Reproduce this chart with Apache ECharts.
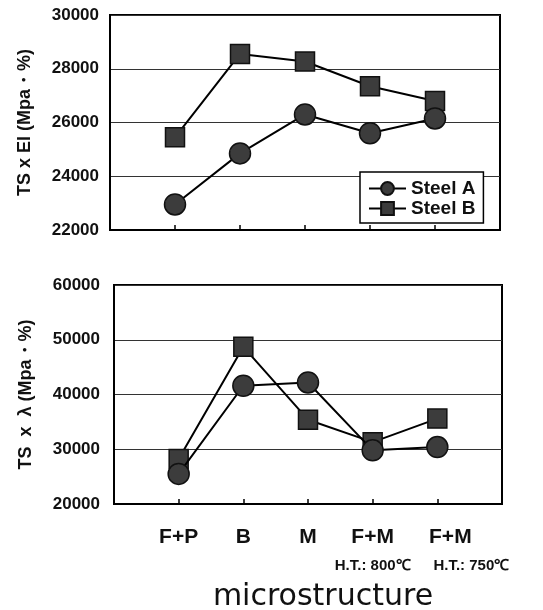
<!DOCTYPE html>
<html>
<head>
<meta charset="utf-8">
<script src="https://cdn.jsdelivr.net/npm/echarts@6/dist/echarts.min.js"></script>
<style>
html,body{margin:0;padding:0;background:#fff;}
#chart{width:543px;height:610px;}
</style>
</head>
<body>
<div id="chart"></div>
<script>
// ---- data ----
const categories = ['F+P', 'B', 'M', 'F+M', 'F+M'];
const subLabels = ['', '', '', 'H.T.: 800\u2103', 'H.T.: 750\u2103'];
const seriesNames = ['Steel A', 'Steel B'];
const steelA_TSxEl = [22950, 24850, 26300, 25600, 26150];
const steelB_TSxEl = [25450, 28550, 28270, 27350, 26800];
const steelA_TSxLambda = [25500, 41600, 42200, 29800, 30400];
const steelB_TSxLambda = [28200, 48700, 35400, 31300, 35600];
const yTopRange = [22000, 30000, 2000];
const yBottomRange = [20000, 60000, 10000];
const yTopName = 'TS x El (Mpa\u30FB%)';
const yBottomName = 'TS  x  \u03BB (Mpa\u30FB%)';
const xName = 'microstructure';

// ---- build ----
const FONT = '"Liberation Sans", Arial, sans-serif';
const padCats = [''].concat(categories, ['']);
const pad = arr => [null].concat(arr, [null]);

const chart = echarts.init(document.getElementById('chart'), null, {renderer: 'canvas'});

function xAxisCfg(gridIndex, showLabels) {
  return {
    type: 'category', gridIndex: gridIndex, data: padCats, boundaryGap: false,
    axisLine: {show: true, lineStyle: {color: '#000', width: 2}},
    axisTick: {show: true, inside: true, length: 5, interval: 0, lineStyle: {color: '#000', width: 1.5}},
    splitLine: {show: false},
    axisLabel: {
      show: showLabels, interval: 0, margin: 20, verticalAlign: 'top',
      formatter: function (v, i) {
        if (i === 0 || i === padCats.length - 1) return '';
        const k = i - 1;
        const shifted = (k === categories.length - 1);
        let s = '{' + (shifted ? 'mainS' : 'main') + '|' + categories[k] + '}';
        if (subLabels[k]) s += '\n{' + (shifted ? 'subS' : 'sub') + '|' + subLabels[k] + '}';
        return s;
      },
      rich: {
        main: {fontFamily: FONT, fontWeight: 'bold', fontSize: 21, color: '#111', lineHeight: 26},
        mainS: {fontFamily: FONT, fontWeight: 'bold', fontSize: 21, color: '#111', lineHeight: 26, padding: [0, 0, 0, 26]},
        sub: {fontFamily: FONT, fontWeight: 'bold', fontSize: 15, color: '#111', lineHeight: 32},
        subS: {fontFamily: FONT, fontWeight: 'bold', fontSize: 15, color: '#111', lineHeight: 32, padding: [0, 0, 0, 68]}
      }
    }
  };
}

function yAxisCfg(gridIndex, range, name, gap, margin) {
  return {
    type: 'value', gridIndex: gridIndex, min: range[0], max: range[1], interval: range[2],
    name: name, nameLocation: 'middle', nameRotate: 90, nameGap: gap,
    nameTextStyle: {fontFamily: FONT, fontWeight: 'bold', fontSize: 18, color: '#111'},
    axisLine: {show: true, lineStyle: {color: '#000', width: 2}},
    axisTick: {show: false},
    splitLine: {show: true, lineStyle: {color: '#333', width: 1}},
    axisLabel: {fontFamily: FONT, fontWeight: 'bold', fontSize: 17, color: '#111', margin: margin,
      formatter: function (v) { return String(v); }}
  };
}

function lineSeries(name, data, xi, yi, symbol, size, z) {
  return {
    name: name, type: 'line', xAxisIndex: xi, yAxisIndex: yi, data: pad(data),
    symbol: symbol, symbolSize: size, z: z,
    lineStyle: {color: '#000', width: 2},
    itemStyle: {color: '#3c3c3c', borderColor: '#111', borderWidth: 1.5},
    emphasis: {disabled: true}, animation: false
  };
}

chart.setOption({
  animation: false,
  backgroundColor: '#fff',
  title: {
    text: xName, left: 318, top: 577, textAlign: 'center',
    textStyle: {fontFamily: '"DejaVu Sans", sans-serif', fontWeight: 'normal', fontSize: 30, color: '#111'}
  },
  legend: {
    data: seriesNames, orient: 'vertical', left: 360, top: 172,
    padding: [7, 8, 5, 8], itemGap: 1, itemWidth: 37, itemHeight: 16,
    borderColor: '#000', borderWidth: 1.5, backgroundColor: '#fff',
    textStyle: {fontFamily: FONT, fontWeight: 'bold', fontSize: 19, color: '#111', lineHeight: 17},
    selectedMode: false
  },
  grid: [
    {left: 110, top: 15, width: 390, height: 215, show: true, borderColor: '#000', borderWidth: 2, containLabel: false},
    {left: 114, top: 285, width: 388, height: 219, show: true, borderColor: '#000', borderWidth: 2, containLabel: false}
  ],
  xAxis: [xAxisCfg(0, false), xAxisCfg(1, true)],
  yAxis: [
    yAxisCfg(0, yTopRange, yTopName, 76, 11),
    yAxisCfg(1, yBottomRange, yBottomName, 79, 14)
  ],
  series: [
    lineSeries(seriesNames[1], steelB_TSxEl, 0, 0, 'rect', 19, 2),
    lineSeries(seriesNames[0], steelA_TSxEl, 0, 0, 'circle', 21, 3),
    lineSeries(seriesNames[1], steelB_TSxLambda, 1, 1, 'rect', 19, 2),
    lineSeries(seriesNames[0], steelA_TSxLambda, 1, 1, 'circle', 21, 3)
  ]
});
</script>
</body>
</html>
